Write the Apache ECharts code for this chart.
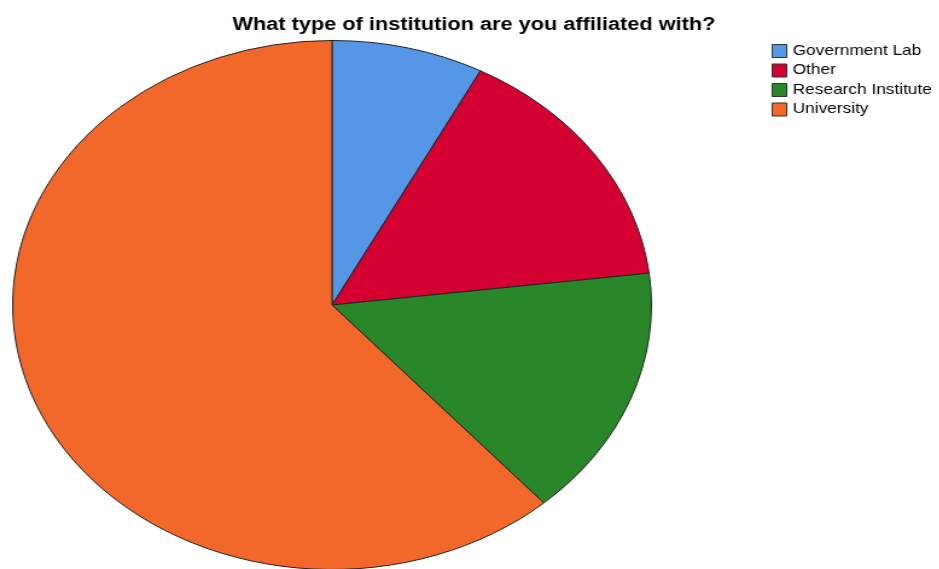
<!DOCTYPE html>
<html>
<head>
<meta charset="utf-8">
<script src="https://cdn.jsdelivr.net/npm/echarts@6/dist/echarts.min.js"></script>
<style>
  html, body { margin: 0; padding: 0; background: #fff; overflow: hidden; }
  /* the chart is laid out on a narrower canvas and stretched sideways,
     which turns the round pie into a wide ellipse */
  #chart { position: absolute; left: 0; top: 0; width: 778px; height: 569px;
           transform: scaleX(1.2075); transform-origin: 0 0; }
</style>
</head>
<body>
<div id="chart"></div>
<script>
const categories = ['Government Lab', 'Other', 'Research Institute', 'University'];
const counts = [1, 2, 2, 8];
const colors = ['#5596E6', '#D50032', '#298729', '#F2682B'];
const titleText = 'What type of institution are you affiliated with?';

const pieData = categories.map((name, i) => ({ name: name, value: counts[i] }));

const chart = echarts.init(document.getElementById('chart'), null, { renderer: 'canvas' });
chart.setOption({
  animation: false,
  color: colors,
  title: {
    text: titleText,
    left: 387.5, textAlign: 'center', top: 11,
    textStyle: { fontFamily: 'Liberation Sans, Arial, sans-serif', fontWeight: 'bold', fontSize: 18, color: '#000' }
  },
  legend: {
    orient: 'vertical',
    left: 634, top: 39,
    icon: 'rect',
    itemWidth: 12, itemHeight: 13, itemGap: 5.5,
    data: categories,
    itemStyle: { borderColor: '#333', borderWidth: 1 },
    textStyle: { fontFamily: 'Liberation Sans, Arial, sans-serif', fontSize: 14.3, color: '#000' }
  },
  series: [{
    type: 'pie',
    center: [275, 305],
    radius: 264.5,
    startAngle: 90,
    clockwise: true,
    label: { show: false }, labelLine: { show: false },
    emphasis: { disabled: true },
    itemStyle: { borderColor: '#222', borderWidth: 1 },
    data: pieData
  }]
});
</script>
</body>
</html>
